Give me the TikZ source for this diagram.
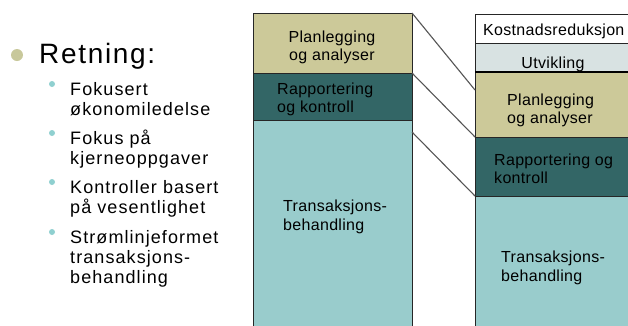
\documentclass[tikz,border=0pt]{standalone}
\usepackage{fontspec}
\setmainfont{Liberation Sans}
\newfontfamily\fbigfam[LetterSpace=6]{Liberation Sans}
\newfontfamily\fsubfam[LetterSpace=6]{Liberation Sans}
\newfontfamily\fboxfam[LetterSpace=2]{Liberation Sans}
\definecolor{khaki}{HTML}{CCC999}
\definecolor{darkteal}{HTML}{336666}
\definecolor{lightteal}{HTML}{99CCCC}
\definecolor{utvcol}{HTML}{D8E2E2}
\definecolor{bulbig}{HTML}{C8C89B}
\definecolor{bulsub}{HTML}{8FD0D0}
\definecolor{conncol}{HTML}{555555}
\tikzset{
  box/.style={draw=black!85, line width=0.9pt, rectangle, inner sep=0pt, outer sep=0pt, anchor=north west},
  conn/.style={draw=conncol, line width=1.1pt},
  bigtxt/.style={inner sep=0pt, anchor=base west, font=\fbigfam\fontsize{28}{30}\selectfont},
  subtxt/.style={inner sep=0pt, anchor=base west, font=\fsubfam\fontsize{18}{20}\selectfont},
  boxtxt/.style={inner sep=0pt, anchor=base west, font=\fboxfam\fontsize{16}{18}\selectfont},
  boxtxtc/.style={inner sep=0pt, anchor=base, font=\fboxfam\fontsize{16}{18}\selectfont},
  bigdot/.style={circle, fill=bulbig, inner sep=0pt, minimum size=12pt},
  subdot/.style={circle, fill=bulsub, inner sep=0pt, minimum size=6pt},
}
\begin{document}
\begin{tikzpicture}[x=1pt,y=-1pt]
\useasboundingbox (0,0) rectangle (628,325);
\clip (0,0) rectangle (628,325);
% left list
\node[bigdot] (b0) at (17,55) {};
\node[bigtxt] (t0) at (39,63) {Retning:};
\node[subdot] (b1) at (52,84) {};
\node[subtxt] (t1a) at (70,95) {Fokusert};
\node[subtxt] (t1b) at (70,115) {økonomiledelse};
\node[subdot] (b2) at (52,133) {};
\node[subtxt] (t2a) at (70,144) {Fokus på};
\node[subtxt] (t2b) at (70,164) {kjerneoppgaver};
\node[subdot] (b3) at (52,182) {};
\node[subtxt] (t3a) at (70,193) {Kontroller basert};
\node[subtxt] (t3b) at (70,213) {på vesentlighet};
\node[subdot] (b4) at (52,232) {};
\node[subtxt] (t4a) at (70,243) {Strømlinjeformet};
\node[subtxt] (t4b) at (70,263) {transaksjons-};
\node[subtxt] (t4c) at (70,283) {behandling};
% left column
\node[box, fill=khaki, minimum width=159pt, minimum height=60pt] (lplan) at (253,13) {};
\node[box, fill=darkteal, minimum width=159pt, minimum height=47pt] (lrap) at (253,73) {};
\node[box, fill=lightteal, minimum width=159pt, minimum height=215pt] (ltrans) at (253,120) {};
\node[boxtxtc] (lp1) at (332,42) {Planlegging};
\node[boxtxtc] (lp2) at (332,60) {og analyser};
\node[boxtxt] (lr1) at (277,94) {Rapportering};
\node[boxtxt] (lr2) at (277,112) {og kontroll};
\node[boxtxt] (lt1) at (283,211) {Transaksjons-};
\node[boxtxt] (lt2) at (283,230) {behandling};
% right column
\node[box, fill=white, minimum width=160pt, minimum height=29pt] (rkost) at (475,14) {};
\node[box, fill=utvcol, minimum width=160pt, minimum height=29pt] (rutv) at (475,43) {};
\node[box, fill=khaki, minimum width=160pt, minimum height=65pt] (rplan) at (475,72) {};
\node[box, fill=darkteal, minimum width=160pt, minimum height=59pt] (rrap) at (475,137) {};
\node[box, fill=lightteal, minimum width=160pt, minimum height=140pt] (rtrans) at (475,196) {};
\draw[line width=2pt, black] (rutv.south west) -- (rutv.south east);
\node[boxtxt] (rk) at (483,35) {Kostnadsreduksjon};
\node[boxtxtc] (ru) at (553,68) {Utvikling};
\node[boxtxt] (rp1) at (507,105) {Planlegging};
\node[boxtxt] (rp2) at (507,123.5) {og analyser};
\node[boxtxt] (rr1) at (494,165) {Rapportering og};
\node[boxtxt] (rr2) at (494,183) {kontroll};
\node[boxtxt] (rt1) at (501,262) {Transaksjons-};
\node[boxtxt] (rt2) at (501,281) {behandling};
% connectors
\coordinate (e1) at (475,90);
\coordinate (s3) at (412,132);
\draw[conn] (lplan.north east) -- (e1);
\draw[conn] (lplan.south east) -- (rrap.north west);
\draw[conn] (s3) -- (rrap.south west);
\end{tikzpicture}
\end{document}
